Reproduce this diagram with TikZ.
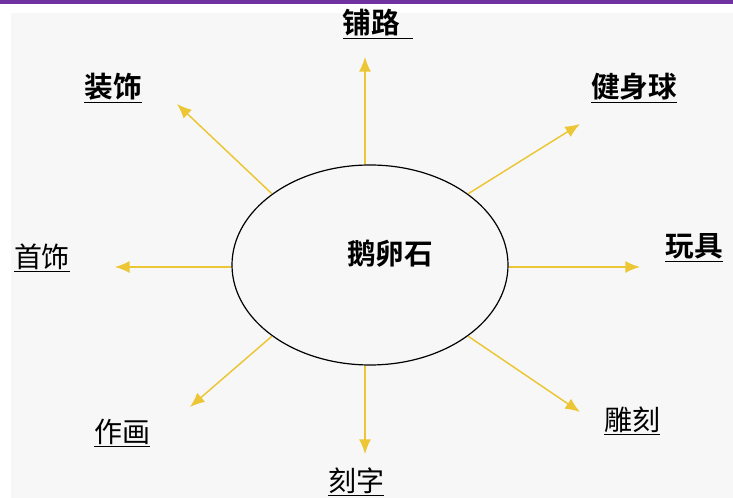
\documentclass[tikz,border=0pt]{standalone}
\usepackage{fontspec}
\usepackage{xcolor}
\usepackage{tikz}
\usetikzlibrary{shapes, arrows.meta, positioning}
\newfontfamily\cjk{Noto Sans CJK SC}
\newfontfamily\cjkbold{Noto Sans CJK SC Bold}

\definecolor{barpurple}{RGB}{112,50,160}
\definecolor{arrowgold}{RGB}{236,198,52}
\definecolor{paper}{RGB}{247,247,247}

\tikzset{
    use/.style={draw=arrowgold, line width=1.1pt, -{Latex[length=11pt, width=9pt]}},
    boldlabel/.style={font=\cjkbold\fontsize{21.5}{24}\selectfont, inner sep=1pt},
    plainlabel/.style={font=\cjk\fontsize{21}{24}\selectfont, inner sep=1pt}
}

\begin{document}
\begin{tikzpicture}[x=0.75pt, y=-0.75pt]
            % frame
            \useasboundingbox (0,0) rectangle (733,498);
            \fill[white] (0,0) rectangle (733,498);
            \fill[paper] (11,13) rectangle (733,498);
            \fill[barpurple] (0,0) rectangle (733,4);

            % centre stone
            \node[draw, ellipse, line width=0.9pt, minimum width=207pt, minimum height=150pt] (stone) at (370,265) {};
            \node[boldlabel] (stonelabel) at (390,254) {鹅卵石};

            % uses
            \node[boldlabel] (paving) at (378,24) {\underline{铺路\ \ }};
            \node[boldlabel] (decor) at (113,88) {\underline{装饰}};
            \node[boldlabel] (ball) at (634,88) {\underline{健身球}};
            \node[boldlabel] (toy) at (694,248) {\underline{玩具}};
            \node[plainlabel] (jewel) at (42,258) {\underline{首饰}};
            \node[plainlabel] (paint) at (122,433) {\underline{作画}};
            \node[plainlabel] (letter) at (356,482) {\underline{刻字}};
            \node[plainlabel] (carve) at (632,421) {\underline{雕刻}};

            \coordinate (pavingtip) at (365,57);
            \coordinate (decortip) at (177,104);
            \coordinate (balltip) at (580,124);
            \coordinate (toytip) at (640,267);
            \coordinate (jeweltip) at (115,267);
            \coordinate (painttip) at (190,407);
            \coordinate (lettertip) at (365,454);
            \coordinate (carvetip) at (580,412);

            \draw[use] (stone.north -| pavingtip) -- (pavingtip);
            \draw[use] (stone.north west) -- (decortip);
            \draw[use] (stone.north east) -- (balltip);
            \draw[use] (stone.east |- toytip) -- (toytip);
            \draw[use] (stone.west |- jeweltip) -- (jeweltip);
            \draw[use] (stone.south west) -- (painttip);
            \draw[use] (stone.south -| lettertip) -- (lettertip);
            \draw[use] (stone.south east) -- (carvetip);
\end{tikzpicture}
\end{document}
